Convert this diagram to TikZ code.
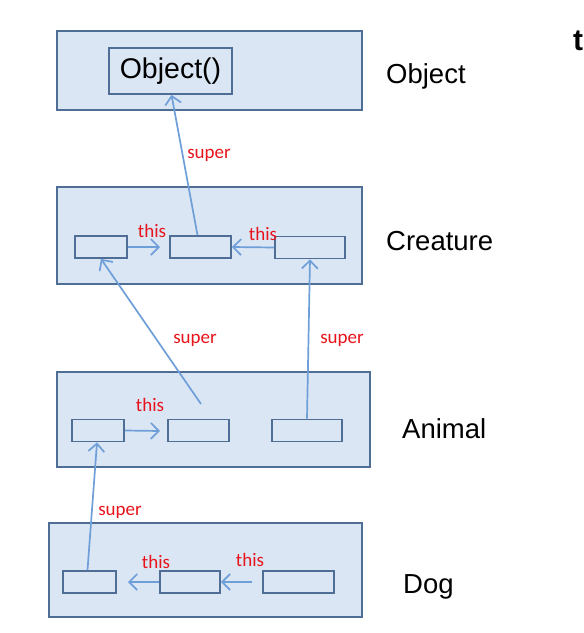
\documentclass[tikz,border=0pt]{standalone}
\usepackage{fontspec}
\setmainfont{Liberation Sans}
\newfontfamily\lblfont{Carlito}
\usetikzlibrary{arrows.meta}
\definecolor{boxfill}{HTML}{DAE6F4}
\definecolor{boxline}{HTML}{4F6E96}
\definecolor{arrowc}{HTML}{6F9FD8}
\definecolor{lblred}{HTML}{E8141C}
\begin{document}
\begin{tikzpicture}[x=1pt,y=-1pt,
  outerbox/.style={draw=boxline,fill=boxfill,line width=1.8pt,rectangle,inner sep=0pt},
  smallbox/.style={draw=boxline,fill=boxfill,line width=1.8pt,rectangle,inner sep=0pt,minimum height=22pt},
  conn/.style={draw=arrowc,line width=1.7pt,-{Straight Barb[length=8pt,width=16pt,line width=1.7pt]}},
  redlbl/.style={text=lblred,font=\lblfont\fontsize{19}{22}\selectfont,inner sep=0pt},
  classlbl/.style={font=\fontsize{27.5}{32}\selectfont,inner sep=0pt,anchor=west}]
\useasboundingbox (0,0) rectangle (584,633);
\fill[white] (0,0) rectangle (584,633);
% outer boxes
\node[outerbox,minimum width=305pt,minimum height=79pt] (objbox) at (209.5,70.5) {};
\node[outerbox,minimum width=305pt,minimum height=97pt] (crebox) at (209.5,235.5) {};
\node[outerbox,minimum width=313pt,minimum height=95pt] (anibox) at (213.5,419.5) {};
\node[outerbox,minimum width=313pt,minimum height=94pt] (dogbox) at (205.5,570) {};
% class labels
\node[classlbl] (lobj) at (386,76) {Object};
\node[classlbl] (lcre) at (386,241) {Creature};
\node[classlbl] (lani) at (402,429) {Animal};
\node[classlbl] (ldog) at (403,587) {Dog};
\node[font=\bfseries\fontsize{30}{34}\selectfont,inner sep=0pt,anchor=west] (tcut) at (573,41) {t};
% Object() box
\node[smallbox,minimum width=123pt,minimum height=46pt,font=\fontsize{28.5}{32}\selectfont] (objc) at (170.5,71) {Object()};
% creature small boxes
\node[smallbox,minimum width=52pt] (c1) at (101,247) {};
\node[smallbox,minimum width=61pt] (c2) at (200.5,247) {};
\node[smallbox,minimum width=70pt] (c3) at (310,247.5) {};
% animal small boxes
\node[smallbox,minimum width=52pt] (a1) at (98,430.5) {};
\node[smallbox,minimum width=61pt] (a2) at (198.5,430.5) {};
\node[smallbox,minimum width=70pt] (a3) at (307,430.5) {};
% dog small boxes
\node[smallbox,minimum width=53pt] (d1) at (89.5,582) {};
\node[smallbox,minimum width=60pt] (d2) at (190,582) {};
\node[smallbox,minimum width=71pt] (d3) at (298.5,582) {};
% free ends / anchor points
\coordinate (c2top) at ([xshift=-3pt]c2.north);
\coordinate (objbot) at ([xshift=1pt]objc.south);
\coordinate (cthisend) at (160,247);
\coordinate (asuperstart) at (201,404);
\coordinate (athisend) at (160,431);
\coordinate (d1top) at ([xshift=-2pt]d1.north);
\coordinate (a1bot) at ([xshift=-1pt]a1.south);
\coordinate (dthisend) at (128,582);
\coordinate (dthisstart) at (252,582);
% connectors
\draw[conn] (c2top) -- (objbot);
\draw[conn] (c1.east) -- (cthisend);
\draw[conn] (c3.west) -- (c2.east);
\draw[conn] (asuperstart) -- (c1.south);
\draw[conn] (a3.north) -- (c3.south);
\draw[conn] (a1.east) -- (athisend);
\draw[conn] (d1top) -- (a1bot);
\draw[conn] (d2.west) -- (dthisend);
\draw[conn] (dthisstart) -- (d2.east);
% red labels
\node[redlbl] (s1) at (209,155) {super};
\node[redlbl] (t1) at (152,231) {this};
\node[redlbl] (t2) at (263,234) {this};
\node[redlbl] (s2) at (195,340) {super};
\node[redlbl] (s3) at (342,340) {super};
\node[redlbl] (t3) at (150,405) {this};
\node[redlbl] (s4) at (120,512) {super};
\node[redlbl] (t4) at (156,562) {this};
\node[redlbl] (t5) at (250,560) {this};
\end{tikzpicture}
\end{document}
